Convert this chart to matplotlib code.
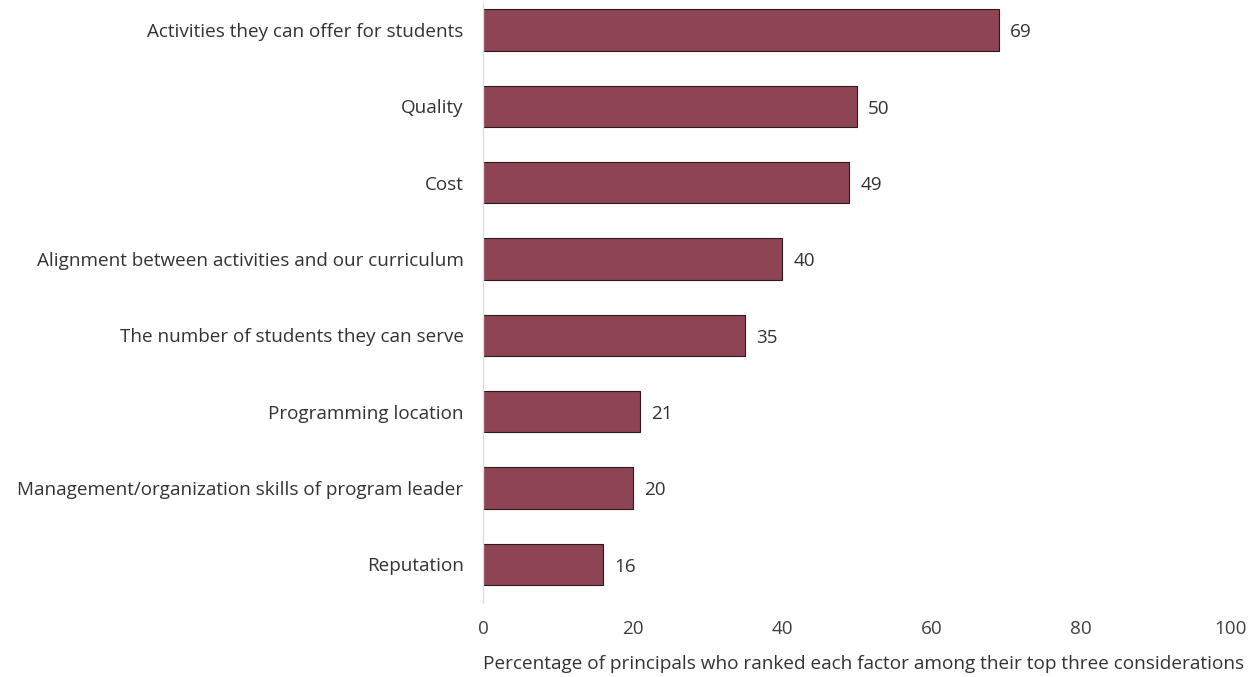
import matplotlib.pyplot as plt

# Factors principals weigh when choosing a program partner
factors = [
    "Activities they can offer for students",
    "Quality",
    "Cost",
    "Alignment between activities and our curriculum",
    "The number of students they can serve",
    "Programming location",
    "Management/organization skills of program leader",
    "Reputation",
]
percent = [69, 50, 49, 40, 35, 21, 20, 16]
xticks = [0, 20, 40, 60, 80, 100]

plt.rcParams['font.family'] = ['Open Sans', 'DejaVu Sans']

fig = plt.figure(figsize=(12.56, 6.77), dpi=100)
ax = fig.add_axes([0.3846, 0.109, 0.595, 0.8866])

pos = list(range(len(factors)))
ax.barh(pos, percent, height=0.54, color='#8E4452', edgecolor='#2a1a1e', linewidth=0.8)

for p, v in zip(pos, percent):
    ax.text(v + 1.5, p + 0.03, str(v), va='center', ha='left', fontsize=13.6, color='#333333')

ax.set_xlim(0, 100)
ax.set_ylim(7.51, -0.354)
ax.set_yticks(pos)
ax.set_yticklabels(factors, fontsize=13.6, color='#333333')
ax.set_xticks(xticks)
ax.set_xticklabels([str(t) for t in xticks], fontsize=13.6, color='#404040')
ax.tick_params(axis='both', length=0)
ax.tick_params(axis='y', pad=14)
ax.tick_params(axis='x', pad=12)

for s in ['top', 'right', 'bottom']:
    ax.spines[s].set_visible(False)
ax.spines['left'].set_color('#dddddd')
ax.spines['left'].set_linewidth(1.0)

ax.set_xlabel("Percentage of principals who ranked each factor among their top three considerations",
              fontsize=13.7, color='#333333', labelpad=12, loc='left')

fig.savefig('out.png', dpi=100)
